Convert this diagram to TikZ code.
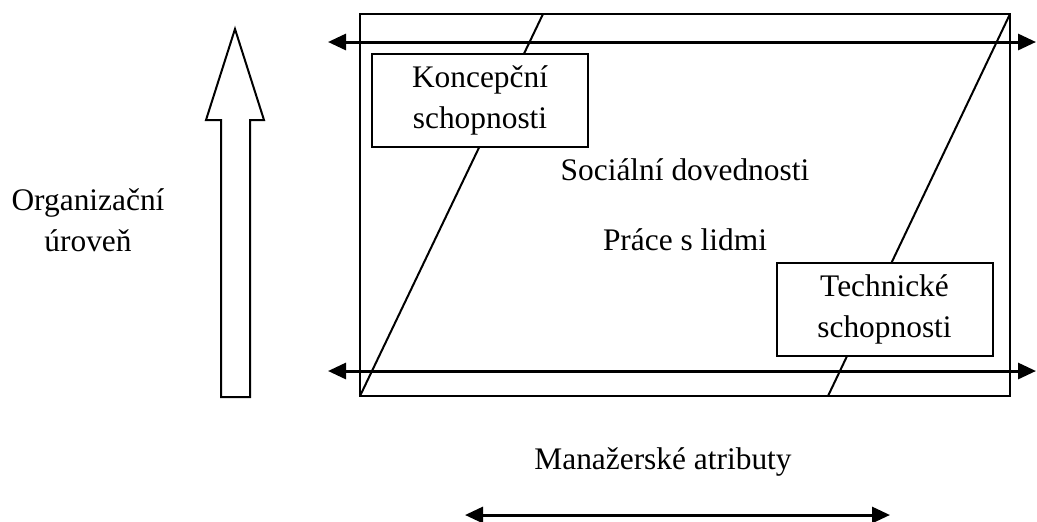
\documentclass[tikz,border=0pt]{standalone}
\usepackage{fontspec}
\setmainfont{Liberation Serif}
\usetikzlibrary{arrows.meta}
\begin{document}
\begin{tikzpicture}[x=0.5pt,y=-0.5pt,
	txt/.style={font=\fontsize{15.7}{20.5}\selectfont, align=center, inner sep=0pt},
	skillbox/.style={txt, draw, line width=1pt, fill=white, minimum width=108pt, minimum height=46.5pt},
	dblarrow/.style={line width=1.5pt, {Triangle[length=9pt,width=8pt]}-{Triangle[length=9pt,width=8pt]}}]
	\useasboundingbox (0,0) rectangle (1037,521);

		% main frame
		\coordinate (nw) at (360,14);
		\coordinate (ne) at (1010,14);
		\coordinate (sw) at (360,396);
		\coordinate (se) at (1010,396);
		\draw[line width=1pt] (nw) -- (ne) -- (se) -- (sw) -- cycle;

		\coordinate (d1top) at (543,14);
		\coordinate (d2bot) at (828,396);
		\draw[line width=1pt] (sw) -- (d1top);
		\draw[line width=1pt] (ne) -- (d2bot);

		% horizontal arrows
		\coordinate (t1) at (328,42);
		\coordinate (t2) at (1036,42);
		\coordinate (b1) at (328,371);
		\coordinate (b2) at (1036,371);
		\draw[dblarrow] (t1) -- (t2);
		\draw[dblarrow] (b1) -- (b2);

		\node[skillbox] (konc) at (480,100) {Koncepční\\schopnosti};
		\node[skillbox] (tech) at (884.5,309) {Technické\\schopnosti};

		\node[txt] (soc) at (685,170) {Sociální dovednosti};
		\node[txt] (prace) at (685,240) {Práce s lidmi};

		% level arrow
		\draw[line width=1pt] (235,29) -- (264,120) -- (250,120) -- (250,397) -- (221,397) -- (221,120) -- (206,120) -- cycle;
		\node[txt] (org) at (88,220) {Organizační\\úroveň};

		% attributes
		\node[txt] (attr) at (663,462) {Manažerské atributy};
		\coordinate (m1) at (465,515);
		\coordinate (m2) at (890,515);
		\draw[dblarrow] (m1) -- (m2);

\end{tikzpicture}
\end{document}
